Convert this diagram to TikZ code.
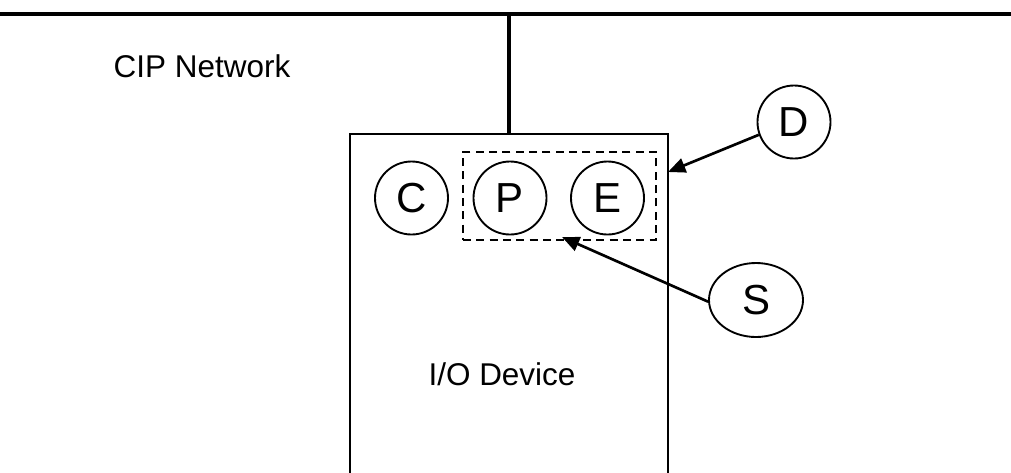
\documentclass[tikz,border=0pt]{standalone}
\usepackage{fontspec}
\setmainfont{Liberation Sans}
\usetikzlibrary{shapes.geometric, arrows.meta, calc, positioning}
\tikzstyle{device} = [rectangle, line width=1.4pt, minimum width=238.5pt, minimum height=267pt, draw=black]
\tikzstyle{part} = [circle, line width=1.4pt, minimum size=54.75pt, inner sep=0pt, font=\fontsize{31.5}{31.5}\selectfont, draw=black]
\tikzstyle{group} = [rectangle, line width=1.4pt, dash pattern=on 6pt off 4pt, minimum width=144.75pt, minimum height=66pt, draw=black]
\tikzstyle{label} = [font=\fontsize{23.6}{23.6}\selectfont]
\tikzstyle{arrow} = [line width=2pt, -{Triangle[length=13pt,width=11pt]}]

\begin{document}
\begin{tikzpicture}[x=0.75pt, y=-0.75pt]
	\useasboundingbox (0,0) rectangle (1011,472);
	\coordinate (BusLeft) at (0,14);
	\coordinate (BusRight) at (1011,14);
	\node (Network) [label] at (202,66) {CIP Network};
	\node (Device) [device] at (509,312) {};
	\node (DeviceName) [label, anchor=base] at (502,385) {I/O Device};
	\node (Group) [group] at (559.5,196) {};
	\node (C) [part] at (411.5,198) {C};
	\node (P) [part] at (510,198) {P};
	\node (E) [part] at (607.5,198) {E};
	\node (D) [part] at (794,122) {D};
	\node (S) [part, ellipse, minimum width=70.5pt, minimum height=55.5pt] at (756,300) {S};
	\coordinate (DeviceEdge) at (668,172);
	\coordinate (GroupEdge) at (562,237);
	\draw [line width=3.6pt] (BusLeft) -- (BusRight);
	\draw [line width=2.6pt] (Device.north) -- (Device.north |- BusLeft);
	\draw [arrow] (D.200) -- (DeviceEdge);
	\draw [arrow] (S.182) -- (GroupEdge);
\end{tikzpicture}
\end{document}
